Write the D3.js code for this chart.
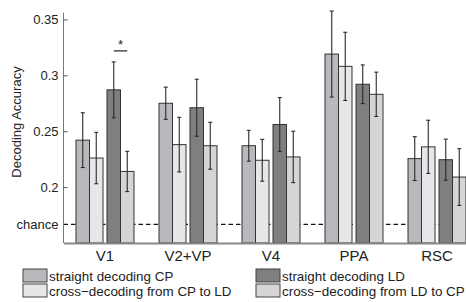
<!DOCTYPE html>
<html>
<head>
<meta charset="utf-8">
<script src="https://cdn.jsdelivr.net/npm/d3@7"></script>
<style>
  body { margin: 0; background: #fff; }
  svg { display: block; font-family: "Liberation Sans", Arial, sans-serif; }
</style>
</head>
<body>
<svg id="paper" width="466" height="302"></svg>
<script>
// regions and series
let regions = ["V1", "V2+VP", "V4", "PPA", "RSC"];
let seriesNames = ["straight decoding CP", "cross\u2212decoding from CP to LD",
                   "straight decoding LD", "cross\u2212decoding from LD to CP"];
let seriesColors = ["#b9b9bd", "#e7e7e9", "#7f7f82", "#d5d5d7"];

let straightCP  = [0.242, 0.275, 0.237, 0.319, 0.2255];
let crossCPtoLD = [0.226, 0.238, 0.224, 0.308, 0.236];
let straightLD  = [0.287, 0.271, 0.256, 0.292, 0.2245];
let crossLDtoCP = [0.214, 0.237, 0.227, 0.283, 0.209];

// half-width of the error bars
let errStraightCP  = [0.0245, 0.0144, 0.0138, 0.0385, 0.0196];
let errCrossCPtoLD = [0.023, 0.0244, 0.0187, 0.0305, 0.0238];
let errStraightLD  = [0.025, 0.0255, 0.0241, 0.0173, 0.0184];
let errCrossLDtoCP = [0.018, 0.021, 0.023, 0.0198, 0.0254];

let chance = 1 / 6;
let yTicks = [chance, 0.2, 0.25, 0.3, 0.35];

let values = [straightCP, crossCPtoLD, straightLD, crossLDtoCP];
let errors = [errStraightCP, errCrossCPtoLD, errStraightLD, errCrossLDtoCP];

// flat table for the bars
let bars = [];
regions.forEach((r, i) => {
    values.forEach((s, j) => {
        bars.push({region: r, series: j, value: s[i], err: errors[j][i]});
    });
});

var margin = {top: 12.7, left: 63.5, bottom: 243},
    svg = d3.select("#paper");

var x = d3.scaleBand().domain(regions).range([63.5, 478.5]);
var barW = 13.5, pairGap = 4;
var inner = d3.scaleBand().domain([0, 1, 2, 3]).range([0, barW * 4]);
function barX(d) {
    var c = x(d.region) + x.bandwidth() / 2;
    return c - (barW * 4 + pairGap) / 2 + inner(d.series) + (d.series >= 2 ? pairGap : 0);
}

var y = d3.scaleLinear().domain([0.15, 0.356]).range([margin.bottom, margin.top]);

// chance line
svg.append("line")
    .attr("x1", margin.left).attr("x2", 466)
    .attr("y1", y(chance)).attr("y2", y(chance))
    .attr("stroke", "#111").attr("stroke-width", 1.1)
    .attr("stroke-dasharray", "4.5,3");

// bars
svg.selectAll(".bar")
    .data(bars)
    .enter().append("rect")
    .attr("class", "bar")
    .attr("x", barX)
    .attr("y", d => y(d.value))
    .attr("width", barW)
    .attr("height", d => y(0.15) - y(d.value))
    .attr("fill", d => seriesColors[d.series])
    .attr("stroke", "#333")
    .attr("stroke-width", 1);

// error bars
var eb = svg.selectAll(".err")
    .data(bars)
    .enter().append("g")
    .attr("class", "err")
    .attr("stroke", "#2a2a2a")
    .attr("stroke-width", 1.1);
eb.append("line")
    .attr("x1", d => barX(d) + barW / 2).attr("x2", d => barX(d) + barW / 2)
    .attr("y1", d => y(d.value + d.err)).attr("y2", d => y(d.value - d.err));
eb.append("line")
    .attr("x1", d => barX(d) + barW / 2 - 2).attr("x2", d => barX(d) + barW / 2 + 2)
    .attr("y1", d => y(d.value + d.err)).attr("y2", d => y(d.value + d.err));
eb.append("line")
    .attr("x1", d => barX(d) + barW / 2 - 2).attr("x2", d => barX(d) + barW / 2 + 2)
    .attr("y1", d => y(d.value - d.err)).attr("y2", d => y(d.value - d.err));

// significance marker over V1 straight LD vs cross LD->CP
var s1 = bars.find(d => d.region == "V1" && d.series == 2),
    s2 = bars.find(d => d.region == "V1" && d.series == 3);
var sigY = y(s1.value + s1.err) - 11;
svg.append("line")
    .attr("x1", barX(s1) + barW / 2).attr("x2", barX(s2) + barW / 2)
    .attr("y1", sigY).attr("y2", sigY)
    .attr("stroke", "#222").attr("stroke-width", 1.2);
svg.append("text")
    .attr("x", (barX(s1) + barX(s2)) / 2 + barW / 2)
    .attr("y", sigY - 2)
    .attr("text-anchor", "middle")
    .attr("font-size", 13)
    .attr("fill", "#222")
    .text("*");

// y axis
var yAxis = svg.append("g")
    .attr("transform", "translate(" + margin.left + ",0)")
    .call(d3.axisLeft(y).tickValues(yTicks).tickSize(-4).tickPadding(5)
        .tickFormat(d => d == chance ? "chance" : String(d)));
yAxis.select(".domain").attr("d", "M0," + margin.top + "V" + margin.bottom)
    .attr("stroke", "#777");
yAxis.selectAll(".tick line").attr("stroke", "#555")
    .filter(d => d == chance).remove();
yAxis.selectAll(".tick text").attr("font-size", 13).attr("fill", "#222")
    .attr("font-family", "Liberation Sans, Arial, sans-serif");

// x axis
var xAxis = svg.append("g")
    .attr("transform", "translate(0," + margin.bottom + ")")
    .call(d3.axisBottom(x).tickSize(0).tickPadding(7));
xAxis.select(".domain").attr("stroke", "#888").attr("stroke-width", 2);
xAxis.selectAll(".tick text").attr("font-size", 15).attr("fill", "#222")
    .attr("font-family", "Liberation Sans, Arial, sans-serif");

// y label
svg.append("text")
    .attr("transform", "translate(21,122) rotate(-90)")
    .attr("text-anchor", "middle")
    .attr("font-size", 13)
    .attr("fill", "#222")
    .text("Decoding Accuracy");

// legend
var legendPos = [[23, 269], [23, 284], [256, 269], [256, 284]];
var legend = svg.selectAll(".legend")
    .data(seriesNames)
    .enter().append("g")
    .attr("class", "legend")
    .attr("transform", (d, i) => "translate(" + legendPos[i][0] + "," + legendPos[i][1] + ")");
legend.append("rect")
    .attr("width", 24).attr("height", 13)
    .attr("fill", (d, i) => seriesColors[i])
    .attr("stroke", "#444").attr("stroke-width", 1);
legend.append("text")
    .attr("x", 26).attr("y", 11.5)
    .attr("font-size", 13.4)
    .attr("fill", "#222")
    .text(d => d);
</script>
</body>
</html>
